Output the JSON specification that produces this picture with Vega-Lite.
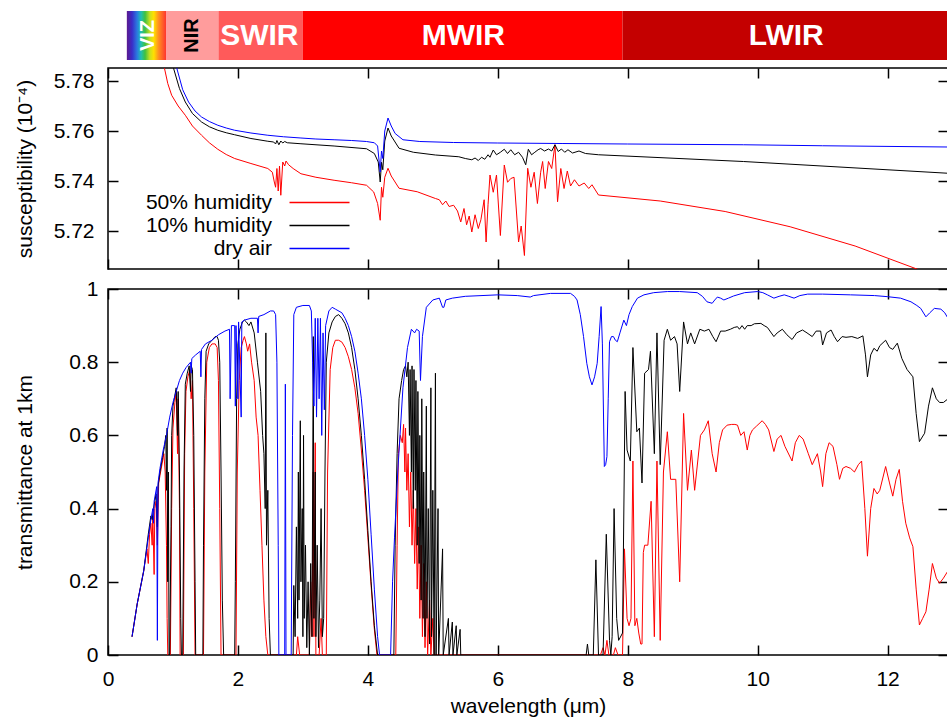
{
"$schema":"https://vega.github.io/schema/vega-lite/v6.json",
"padding":{"left":13,"top":11,"right":0,"bottom":0},
"config":{"font":"Liberation Sans","view":{"stroke":"black","strokeWidth":1.5},
"axis":{"grid":false,"domain":false,"tickColor":"black","tickWidth":1.5,"labelFont":"Liberation Sans","labelFontSize":21,"labelColor":"black","titleFont":"Liberation Sans","titleFontSize":21,"titleFontWeight":"normal","titleColor":"black"}},
"resolve":{"scale":{"color":"independent"}},
"datasets":{
"bands":[{"b":"VIZ","a":0.29,"e":0.9,"c":0.61},{"b":"NIR","a":0.9,"e":1.7,"c":1.3},{"b":"SWIR","a":1.7,"e":3.0,"c":2.33},{"b":"MWIR","a":3.0,"e":7.92,"c":5.47},{"b":"LWIR","a":7.92,"e":12.93,"c":10.44}],
"sus":[
{"s":"50% humidity","l":0.8,"v":5.8},{"s":"50% humidity","l":0.87,"v":5.785},{"s":"50% humidity","l":0.92,"v":5.779},{"s":"50% humidity","l":0.98,"v":5.7743},{"s":"50% humidity","l":1.08,"v":5.77},{"s":"50% humidity","l":1.19,"v":5.7663},{"s":"50% humidity","l":1.3,"v":5.762},{"s":"50% humidity","l":1.44,"v":5.7583},{"s":"50% humidity","l":1.56,"v":5.7553},{"s":"50% humidity","l":1.69,"v":5.7527},{"s":"50% humidity","l":1.82,"v":5.7506},{"s":"50% humidity","l":1.95,"v":5.749},{"s":"50% humidity","l":2.2,"v":5.747},{"s":"50% humidity","l":2.46,"v":5.745},{"s":"50% humidity","l":2.53,"v":5.7435},{"s":"50% humidity","l":2.56,"v":5.7396},{"s":"50% humidity","l":2.58,"v":5.7375},{"s":"50% humidity","l":2.6,"v":5.745},{"s":"50% humidity","l":2.62,"v":5.736},{"s":"50% humidity","l":2.64,"v":5.746},{"s":"50% humidity","l":2.66,"v":5.7343},{"s":"50% humidity","l":2.69,"v":5.7476},{"s":"50% humidity","l":2.72,"v":5.746},{"s":"50% humidity","l":2.74,"v":5.748},{"s":"50% humidity","l":2.78,"v":5.7465},{"s":"50% humidity","l":2.85,"v":5.745},{"s":"50% humidity","l":2.97,"v":5.7429},{"s":"50% humidity","l":3.2,"v":5.7415},{"s":"50% humidity","l":3.48,"v":5.7403},{"s":"50% humidity","l":3.75,"v":5.7393},{"s":"50% humidity","l":3.98,"v":5.7383},{"s":"50% humidity","l":4.09,"v":5.7356},{"s":"50% humidity","l":4.15,"v":5.731},{"s":"50% humidity","l":4.19,"v":5.7243},{"s":"50% humidity","l":4.21,"v":5.7375},{"s":"50% humidity","l":4.23,"v":5.7335},{"s":"50% humidity","l":4.26,"v":5.7415},{"s":"50% humidity","l":4.31,"v":5.7451},{"s":"50% humidity","l":4.36,"v":5.742},{"s":"50% humidity","l":4.48,"v":5.7371},{"s":"50% humidity","l":4.76,"v":5.7357},{"s":"50% humidity","l":5.04,"v":5.733},{"s":"50% humidity","l":5.1,"v":5.7325},{"s":"50% humidity","l":5.15,"v":5.7305},{"s":"50% humidity","l":5.2,"v":5.732},{"s":"50% humidity","l":5.25,"v":5.7298},{"s":"50% humidity","l":5.32,"v":5.7303},{"s":"50% humidity","l":5.38,"v":5.728},{"s":"50% humidity","l":5.43,"v":5.7236},{"s":"50% humidity","l":5.48,"v":5.729},{"s":"50% humidity","l":5.52,"v":5.7225},{"s":"50% humidity","l":5.56,"v":5.726},{"s":"50% humidity","l":5.6,"v":5.7196},{"s":"50% humidity","l":5.65,"v":5.7265},{"s":"50% humidity","l":5.7,"v":5.721},{"s":"50% humidity","l":5.74,"v":5.7245},{"s":"50% humidity","l":5.79,"v":5.7325},{"s":"50% humidity","l":5.82,"v":5.7156},{"s":"50% humidity","l":5.85,"v":5.7305},{"s":"50% humidity","l":5.88,"v":5.7424},{"s":"50% humidity","l":5.93,"v":5.7355},{"s":"50% humidity","l":5.98,"v":5.7424},{"s":"50% humidity","l":6.04,"v":5.7182},{"s":"50% humidity","l":6.1,"v":5.7464},{"s":"50% humidity","l":6.15,"v":5.7395},{"s":"50% humidity","l":6.2,"v":5.741},{"s":"50% humidity","l":6.25,"v":5.7415},{"s":"50% humidity","l":6.32,"v":5.7156},{"s":"50% humidity","l":6.36,"v":5.722},{"s":"50% humidity","l":6.41,"v":5.7102},{"s":"50% humidity","l":6.46,"v":5.7451},{"s":"50% humidity","l":6.51,"v":5.7375},{"s":"50% humidity","l":6.56,"v":5.7435},{"s":"50% humidity","l":6.61,"v":5.731},{"s":"50% humidity","l":6.66,"v":5.7435},{"s":"50% humidity","l":6.69,"v":5.7478},{"s":"50% humidity","l":6.73,"v":5.737},{"s":"50% humidity","l":6.78,"v":5.7478},{"s":"50% humidity","l":6.83,"v":5.745},{"s":"50% humidity","l":6.88,"v":5.7545},{"s":"50% humidity","l":6.92,"v":5.7317},{"s":"50% humidity","l":6.97,"v":5.745},{"s":"50% humidity","l":7.02,"v":5.737},{"s":"50% humidity","l":7.07,"v":5.744},{"s":"50% humidity","l":7.12,"v":5.738},{"s":"50% humidity","l":7.18,"v":5.7405},{"s":"50% humidity","l":7.25,"v":5.738},{"s":"50% humidity","l":7.33,"v":5.7392},{"s":"50% humidity","l":7.4,"v":5.737},{"s":"50% humidity","l":7.45,"v":5.7385},{"s":"50% humidity","l":7.55,"v":5.7344},{"s":"50% humidity","l":8.5,"v":5.732},{"s":"50% humidity","l":9.5,"v":5.7278},{"s":"50% humidity","l":10.5,"v":5.7217},{"s":"50% humidity","l":11.5,"v":5.714},{"s":"50% humidity","l":12.45,"v":5.7048},{"s":"50% humidity","l":12.93,"v":5.7},
{"s":"10% humidity","l":0.9,"v":5.8},{"s":"10% humidity","l":1.01,"v":5.785},{"s":"10% humidity","l":1.1,"v":5.777},{"s":"10% humidity","l":1.19,"v":5.7716},{"s":"10% humidity","l":1.3,"v":5.767},{"s":"10% humidity","l":1.44,"v":5.7636},{"s":"10% humidity","l":1.56,"v":5.7617},{"s":"10% humidity","l":1.69,"v":5.7603},{"s":"10% humidity","l":1.82,"v":5.7593},{"s":"10% humidity","l":1.95,"v":5.7585},{"s":"10% humidity","l":2.2,"v":5.757},{"s":"10% humidity","l":2.46,"v":5.7559},{"s":"10% humidity","l":2.55,"v":5.7556},{"s":"10% humidity","l":2.58,"v":5.7548},{"s":"10% humidity","l":2.6,"v":5.7562},{"s":"10% humidity","l":2.63,"v":5.7545},{"s":"10% humidity","l":2.66,"v":5.756},{"s":"10% humidity","l":2.69,"v":5.7552},{"s":"10% humidity","l":2.72,"v":5.7558},{"s":"10% humidity","l":2.76,"v":5.7553},{"s":"10% humidity","l":2.97,"v":5.7549},{"s":"10% humidity","l":3.48,"v":5.754},{"s":"10% humidity","l":3.98,"v":5.7529},{"s":"10% humidity","l":4.1,"v":5.751},{"s":"10% humidity","l":4.16,"v":5.7476},{"s":"10% humidity","l":4.19,"v":5.7396},{"s":"10% humidity","l":4.21,"v":5.7475},{"s":"10% humidity","l":4.23,"v":5.7445},{"s":"10% humidity","l":4.26,"v":5.756},{"s":"10% humidity","l":4.31,"v":5.7612},{"s":"10% humidity","l":4.36,"v":5.758},{"s":"10% humidity","l":4.48,"v":5.7531},{"s":"10% humidity","l":4.7,"v":5.7515},{"s":"10% humidity","l":5.04,"v":5.7504},{"s":"10% humidity","l":5.4,"v":5.7497},{"s":"10% humidity","l":5.5,"v":5.749},{"s":"10% humidity","l":5.6,"v":5.7485},{"s":"10% humidity","l":5.65,"v":5.7492},{"s":"10% humidity","l":5.7,"v":5.7482},{"s":"10% humidity","l":5.75,"v":5.7495},{"s":"10% humidity","l":5.8,"v":5.7487},{"s":"10% humidity","l":5.85,"v":5.7505},{"s":"10% humidity","l":5.88,"v":5.7495},{"s":"10% humidity","l":5.93,"v":5.7524},{"s":"10% humidity","l":5.98,"v":5.7505},{"s":"10% humidity","l":6.04,"v":5.7515},{"s":"10% humidity","l":6.1,"v":5.7527},{"s":"10% humidity","l":6.15,"v":5.751},{"s":"10% humidity","l":6.2,"v":5.7525},{"s":"10% humidity","l":6.26,"v":5.7505},{"s":"10% humidity","l":6.32,"v":5.7515},{"s":"10% humidity","l":6.38,"v":5.7495},{"s":"10% humidity","l":6.43,"v":5.7465},{"s":"10% humidity","l":6.47,"v":5.7527},{"s":"10% humidity","l":6.52,"v":5.7505},{"s":"10% humidity","l":6.57,"v":5.7515},{"s":"10% humidity","l":6.62,"v":5.7525},{"s":"10% humidity","l":6.66,"v":5.753},{"s":"10% humidity","l":6.72,"v":5.752},{"s":"10% humidity","l":6.78,"v":5.7528},{"s":"10% humidity","l":6.83,"v":5.752},{"s":"10% humidity","l":6.88,"v":5.7545},{"s":"10% humidity","l":6.93,"v":5.7518},{"s":"10% humidity","l":6.98,"v":5.7528},{"s":"10% humidity","l":7.03,"v":5.7515},{"s":"10% humidity","l":7.08,"v":5.7525},{"s":"10% humidity","l":7.15,"v":5.7512},{"s":"10% humidity","l":7.25,"v":5.752},{"s":"10% humidity","l":7.35,"v":5.751},{"s":"10% humidity","l":7.55,"v":5.7505},{"s":"10% humidity","l":9.78,"v":5.7478},{"s":"10% humidity","l":12.93,"v":5.7431},
{"s":"dry air","l":0.95,"v":5.795},{"s":"dry air","l":1.06,"v":5.785},{"s":"dry air","l":1.15,"v":5.7765},{"s":"dry air","l":1.24,"v":5.7716},{"s":"dry air","l":1.34,"v":5.768},{"s":"dry air","l":1.44,"v":5.7656},{"s":"dry air","l":1.56,"v":5.7638},{"s":"dry air","l":1.69,"v":5.7623},{"s":"dry air","l":1.82,"v":5.7612},{"s":"dry air","l":1.95,"v":5.7603},{"s":"dry air","l":2.2,"v":5.7592},{"s":"dry air","l":2.46,"v":5.7583},{"s":"dry air","l":2.7,"v":5.7577},{"s":"dry air","l":2.97,"v":5.7572},{"s":"dry air","l":3.2,"v":5.7568},{"s":"dry air","l":3.48,"v":5.7565},{"s":"dry air","l":3.75,"v":5.7562},{"s":"dry air","l":3.98,"v":5.7558},{"s":"dry air","l":4.1,"v":5.7553},{"s":"dry air","l":4.15,"v":5.754},{"s":"dry air","l":4.19,"v":5.7436},{"s":"dry air","l":4.21,"v":5.752},{"s":"dry air","l":4.23,"v":5.749},{"s":"dry air","l":4.26,"v":5.76},{"s":"dry air","l":4.31,"v":5.7652},{"s":"dry air","l":4.36,"v":5.762},{"s":"dry air","l":4.42,"v":5.759},{"s":"dry air","l":4.54,"v":5.7565},{"s":"dry air","l":4.8,"v":5.7558},{"s":"dry air","l":5.32,"v":5.7554},{"s":"dry air","l":6.0,"v":5.7552},{"s":"dry air","l":6.99,"v":5.755},{"s":"dry air","l":8.0,"v":5.7548},{"s":"dry air","l":9.78,"v":5.7545},{"s":"dry air","l":11.0,"v":5.7541},{"s":"dry air","l":12.93,"v":5.7536}
],
"trans":[
{"s":"50% humidity","l":0.37,"v":0.05},{"s":"50% humidity","l":0.45,"v":0.14},{"s":"50% humidity","l":0.55,"v":0.23},{"s":"50% humidity","l":0.6,"v":0.29},{"s":"50% humidity","l":0.62,"v":0.25},{"s":"50% humidity","l":0.64,"v":0.33},{"s":"50% humidity","l":0.66,"v":0.36},{"s":"50% humidity","l":0.68,"v":0.3},{"s":"50% humidity","l":0.69,"v":0.38},{"s":"50% humidity","l":0.71,"v":0.22},{"s":"50% humidity","l":0.72,"v":0.4},{"s":"50% humidity","l":0.74,"v":0.42},{"s":"50% humidity","l":0.76,"v":0.3},{"s":"50% humidity","l":0.78,"v":0.47},{"s":"50% humidity","l":0.81,"v":0.5},{"s":"50% humidity","l":0.84,"v":0.53},{"s":"50% humidity","l":0.86,"v":0.55},{"s":"50% humidity","l":0.88,"v":0.5},{"s":"50% humidity","l":0.9,"v":0.3},{"s":"50% humidity","l":0.91,"v":0.1},{"s":"50% humidity","l":0.92,"v":0.0},{"s":"50% humidity","l":0.96,"v":0.0},{"s":"50% humidity","l":0.98,"v":0.4},{"s":"50% humidity","l":1.0,"v":0.62},{"s":"50% humidity","l":1.03,"v":0.69},{"s":"50% humidity","l":1.05,"v":0.72},{"s":"50% humidity","l":1.07,"v":0.55},{"s":"50% humidity","l":1.08,"v":0.7},{"s":"50% humidity","l":1.1,"v":0.4},{"s":"50% humidity","l":1.11,"v":0.0},{"s":"50% humidity","l":1.16,"v":0.0},{"s":"50% humidity","l":1.18,"v":0.55},{"s":"50% humidity","l":1.2,"v":0.72},{"s":"50% humidity","l":1.23,"v":0.76},{"s":"50% humidity","l":1.26,"v":0.78},{"s":"50% humidity","l":1.28,"v":0.7},{"s":"50% humidity","l":1.3,"v":0.75},{"s":"50% humidity","l":1.32,"v":0.4},{"s":"50% humidity","l":1.34,"v":0.0},{"s":"50% humidity","l":1.47,"v":0.0},{"s":"50% humidity","l":1.49,"v":0.5},{"s":"50% humidity","l":1.52,"v":0.8},{"s":"50% humidity","l":1.56,"v":0.84},{"s":"50% humidity","l":1.6,"v":0.85},{"s":"50% humidity","l":1.65,"v":0.85},{"s":"50% humidity","l":1.68,"v":0.84},{"s":"50% humidity","l":1.7,"v":0.75},{"s":"50% humidity","l":1.72,"v":0.4},{"s":"50% humidity","l":1.74,"v":0.0},{"s":"50% humidity","l":1.97,"v":0.0},{"s":"50% humidity","l":1.99,"v":0.5},{"s":"50% humidity","l":2.02,"v":0.75},{"s":"50% humidity","l":2.05,"v":0.84},{"s":"50% humidity","l":2.08,"v":0.86},{"s":"50% humidity","l":2.1,"v":0.87},{"s":"50% humidity","l":2.13,"v":0.85},{"s":"50% humidity","l":2.15,"v":0.83},{"s":"50% humidity","l":2.18,"v":0.85},{"s":"50% humidity","l":2.21,"v":0.8},{"s":"50% humidity","l":2.25,"v":0.75},{"s":"50% humidity","l":2.28,"v":0.65},{"s":"50% humidity","l":2.31,"v":0.6},{"s":"50% humidity","l":2.34,"v":0.45},{"s":"50% humidity","l":2.37,"v":0.3},{"s":"50% humidity","l":2.4,"v":0.15},{"s":"50% humidity","l":2.43,"v":0.05},{"s":"50% humidity","l":2.46,"v":0.0},{"s":"50% humidity","l":2.9,"v":0.0},{"s":"50% humidity","l":2.92,"v":0.05},{"s":"50% humidity","l":2.95,"v":0.0},{"s":"50% humidity","l":3.1,"v":0.0},{"s":"50% humidity","l":3.12,"v":0.2},{"s":"50% humidity","l":3.14,"v":0.05},{"s":"50% humidity","l":3.16,"v":0.5},{"s":"50% humidity","l":3.17,"v":0.05},{"s":"50% humidity","l":3.19,"v":0.58},{"s":"50% humidity","l":3.2,"v":0.0},{"s":"50% humidity","l":3.25,"v":0.0},{"s":"50% humidity","l":3.28,"v":0.1},{"s":"50% humidity","l":3.3,"v":0.0},{"s":"50% humidity","l":3.36,"v":0.0},{"s":"50% humidity","l":3.38,"v":0.5},{"s":"50% humidity","l":3.42,"v":0.78},{"s":"50% humidity","l":3.46,"v":0.84},{"s":"50% humidity","l":3.5,"v":0.86},{"s":"50% humidity","l":3.55,"v":0.86},{"s":"50% humidity","l":3.6,"v":0.855},{"s":"50% humidity","l":3.65,"v":0.84},{"s":"50% humidity","l":3.7,"v":0.815},{"s":"50% humidity","l":3.75,"v":0.78},{"s":"50% humidity","l":3.8,"v":0.73},{"s":"50% humidity","l":3.85,"v":0.66},{"s":"50% humidity","l":3.9,"v":0.56},{"s":"50% humidity","l":3.95,"v":0.45},{"s":"50% humidity","l":4.0,"v":0.32},{"s":"50% humidity","l":4.05,"v":0.19},{"s":"50% humidity","l":4.1,"v":0.07},{"s":"50% humidity","l":4.14,"v":0.0},{"s":"50% humidity","l":4.43,"v":0.0},{"s":"50% humidity","l":4.45,"v":0.3},{"s":"50% humidity","l":4.47,"v":0.55},{"s":"50% humidity","l":4.5,"v":0.6},{"s":"50% humidity","l":4.53,"v":0.58},{"s":"50% humidity","l":4.55,"v":0.63},{"s":"50% humidity","l":4.57,"v":0.5},{"s":"50% humidity","l":4.58,"v":0.62},{"s":"50% humidity","l":4.6,"v":0.45},{"s":"50% humidity","l":4.62,"v":0.55},{"s":"50% humidity","l":4.64,"v":0.35},{"s":"50% humidity","l":4.66,"v":0.5},{"s":"50% humidity","l":4.68,"v":0.3},{"s":"50% humidity","l":4.7,"v":0.45},{"s":"50% humidity","l":4.72,"v":0.25},{"s":"50% humidity","l":4.74,"v":0.4},{"s":"50% humidity","l":4.76,"v":0.18},{"s":"50% humidity","l":4.78,"v":0.35},{"s":"50% humidity","l":4.8,"v":0.1},{"s":"50% humidity","l":4.82,"v":0.3},{"s":"50% humidity","l":4.84,"v":0.05},{"s":"50% humidity","l":4.86,"v":0.25},{"s":"50% humidity","l":4.88,"v":0.02},{"s":"50% humidity","l":4.9,"v":0.2},{"s":"50% humidity","l":4.92,"v":0.0},{"s":"50% humidity","l":4.95,"v":0.15},{"s":"50% humidity","l":4.97,"v":0.0},{"s":"50% humidity","l":5.0,"v":0.1},{"s":"50% humidity","l":5.02,"v":0.0},{"s":"50% humidity","l":7.58,"v":0.0},{"s":"50% humidity","l":7.62,"v":0.02},{"s":"50% humidity","l":7.65,"v":0.0},{"s":"50% humidity","l":7.68,"v":0.04},{"s":"50% humidity","l":7.71,"v":0.0},{"s":"50% humidity","l":7.78,"v":0.0},{"s":"50% humidity","l":7.81,"v":0.02},{"s":"50% humidity","l":7.85,"v":0.0},{"s":"50% humidity","l":7.92,"v":0.0},{"s":"50% humidity","l":7.95,"v":0.29},{"s":"50% humidity","l":7.99,"v":0.1},{"s":"50% humidity","l":8.02,"v":0.08},{"s":"50% humidity","l":8.05,"v":0.1},{"s":"50% humidity","l":8.08,"v":0.53},{"s":"50% humidity","l":8.11,"v":0.08},{"s":"50% humidity","l":8.14,"v":0.1},{"s":"50% humidity","l":8.17,"v":0.06},{"s":"50% humidity","l":8.2,"v":0.03},{"s":"50% humidity","l":8.22,"v":0.03},{"s":"50% humidity","l":8.24,"v":0.28},{"s":"50% humidity","l":8.26,"v":0.3},{"s":"50% humidity","l":8.31,"v":0.3},{"s":"50% humidity","l":8.36,"v":0.42},{"s":"50% humidity","l":8.41,"v":0.05},{"s":"50% humidity","l":8.45,"v":0.53},{"s":"50% humidity","l":8.5,"v":0.04},{"s":"50% humidity","l":8.55,"v":0.5},{"s":"50% humidity","l":8.61,"v":0.61},{"s":"50% humidity","l":8.66,"v":0.48},{"s":"50% humidity","l":8.74,"v":0.48},{"s":"50% humidity","l":8.8,"v":0.2},{"s":"50% humidity","l":8.86,"v":0.66},{"s":"50% humidity","l":8.92,"v":0.45},{"s":"50% humidity","l":8.98,"v":0.56},{"s":"50% humidity","l":9.03,"v":0.45},{"s":"50% humidity","l":9.12,"v":0.6},{"s":"50% humidity","l":9.18,"v":0.615},{"s":"50% humidity","l":9.24,"v":0.64},{"s":"50% humidity","l":9.3,"v":0.55},{"s":"50% humidity","l":9.36,"v":0.5},{"s":"50% humidity","l":9.41,"v":0.58},{"s":"50% humidity","l":9.46,"v":0.615},{"s":"50% humidity","l":9.53,"v":0.628},{"s":"50% humidity","l":9.6,"v":0.63},{"s":"50% humidity","l":9.65,"v":0.63},{"s":"50% humidity","l":9.69,"v":0.628},{"s":"50% humidity","l":9.74,"v":0.6},{"s":"50% humidity","l":9.79,"v":0.61},{"s":"50% humidity","l":9.84,"v":0.56},{"s":"50% humidity","l":9.88,"v":0.6},{"s":"50% humidity","l":9.92,"v":0.615},{"s":"50% humidity","l":9.98,"v":0.625},{"s":"50% humidity","l":10.07,"v":0.64},{"s":"50% humidity","l":10.12,"v":0.63},{"s":"50% humidity","l":10.17,"v":0.615},{"s":"50% humidity","l":10.25,"v":0.556},{"s":"50% humidity","l":10.3,"v":0.59},{"s":"50% humidity","l":10.36,"v":0.6},{"s":"50% humidity","l":10.42,"v":0.57},{"s":"50% humidity","l":10.53,"v":0.53},{"s":"50% humidity","l":10.58,"v":0.58},{"s":"50% humidity","l":10.64,"v":0.6},{"s":"50% humidity","l":10.7,"v":0.59},{"s":"50% humidity","l":10.78,"v":0.55},{"s":"50% humidity","l":10.84,"v":0.52},{"s":"50% humidity","l":10.92,"v":0.55},{"s":"50% humidity","l":10.97,"v":0.5},{"s":"50% humidity","l":11.0,"v":0.46},{"s":"50% humidity","l":11.05,"v":0.55},{"s":"50% humidity","l":11.1,"v":0.58},{"s":"50% humidity","l":11.16,"v":0.57},{"s":"50% humidity","l":11.22,"v":0.52},{"s":"50% humidity","l":11.26,"v":0.48},{"s":"50% humidity","l":11.31,"v":0.51},{"s":"50% humidity","l":11.36,"v":0.515},{"s":"50% humidity","l":11.43,"v":0.51},{"s":"50% humidity","l":11.49,"v":0.5},{"s":"50% humidity","l":11.55,"v":0.52},{"s":"50% humidity","l":11.6,"v":0.53},{"s":"50% humidity","l":11.65,"v":0.4},{"s":"50% humidity","l":11.69,"v":0.27},{"s":"50% humidity","l":11.74,"v":0.4},{"s":"50% humidity","l":11.79,"v":0.455},{"s":"50% humidity","l":11.84,"v":0.44},{"s":"50% humidity","l":11.88,"v":0.45},{"s":"50% humidity","l":11.97,"v":0.515},{"s":"50% humidity","l":12.03,"v":0.47},{"s":"50% humidity","l":12.08,"v":0.434},{"s":"50% humidity","l":12.13,"v":0.48},{"s":"50% humidity","l":12.18,"v":0.507},{"s":"50% humidity","l":12.23,"v":0.42},{"s":"50% humidity","l":12.28,"v":0.36},{"s":"50% humidity","l":12.34,"v":0.32},{"s":"50% humidity","l":12.39,"v":0.296},{"s":"50% humidity","l":12.44,"v":0.18},{"s":"50% humidity","l":12.49,"v":0.082},{"s":"50% humidity","l":12.54,"v":0.1},{"s":"50% humidity","l":12.59,"v":0.118},{"s":"50% humidity","l":12.64,"v":0.18},{"s":"50% humidity","l":12.69,"v":0.25},{"s":"50% humidity","l":12.75,"v":0.21},{"s":"50% humidity","l":12.8,"v":0.196},{"s":"50% humidity","l":12.86,"v":0.21},{"s":"50% humidity","l":12.93,"v":0.23},
{"s":"10% humidity","l":0.37,"v":0.05},{"s":"10% humidity","l":0.45,"v":0.14},{"s":"10% humidity","l":0.55,"v":0.23},{"s":"10% humidity","l":0.62,"v":0.33},{"s":"10% humidity","l":0.66,"v":0.38},{"s":"10% humidity","l":0.68,"v":0.37},{"s":"10% humidity","l":0.7,"v":0.4},{"s":"10% humidity","l":0.72,"v":0.42},{"s":"10% humidity","l":0.74,"v":0.44},{"s":"10% humidity","l":0.76,"v":0.35},{"s":"10% humidity","l":0.77,"v":0.46},{"s":"10% humidity","l":0.8,"v":0.5},{"s":"10% humidity","l":0.84,"v":0.54},{"s":"10% humidity","l":0.87,"v":0.57},{"s":"10% humidity","l":0.89,"v":0.6},{"s":"10% humidity","l":0.9,"v":0.45},{"s":"10% humidity","l":0.91,"v":0.62},{"s":"10% humidity","l":0.92,"v":0.2},{"s":"10% humidity","l":0.93,"v":0.5},{"s":"10% humidity","l":0.94,"v":0.0},{"s":"10% humidity","l":0.95,"v":0.0},{"s":"10% humidity","l":0.97,"v":0.35},{"s":"10% humidity","l":0.98,"v":0.6},{"s":"10% humidity","l":1.0,"v":0.68},{"s":"10% humidity","l":1.03,"v":0.71},{"s":"10% humidity","l":1.05,"v":0.73},{"s":"10% humidity","l":1.07,"v":0.6},{"s":"10% humidity","l":1.08,"v":0.72},{"s":"10% humidity","l":1.1,"v":0.5},{"s":"10% humidity","l":1.12,"v":0.1},{"s":"10% humidity","l":1.13,"v":0.0},{"s":"10% humidity","l":1.15,"v":0.0},{"s":"10% humidity","l":1.17,"v":0.5},{"s":"10% humidity","l":1.19,"v":0.74},{"s":"10% humidity","l":1.22,"v":0.77},{"s":"10% humidity","l":1.25,"v":0.79},{"s":"10% humidity","l":1.27,"v":0.72},{"s":"10% humidity","l":1.28,"v":0.79},{"s":"10% humidity","l":1.3,"v":0.78},{"s":"10% humidity","l":1.32,"v":0.6},{"s":"10% humidity","l":1.34,"v":0.2},{"s":"10% humidity","l":1.35,"v":0.0},{"s":"10% humidity","l":1.46,"v":0.0},{"s":"10% humidity","l":1.47,"v":0.3},{"s":"10% humidity","l":1.49,"v":0.7},{"s":"10% humidity","l":1.51,"v":0.83},{"s":"10% humidity","l":1.55,"v":0.85},{"s":"10% humidity","l":1.6,"v":0.86},{"s":"10% humidity","l":1.65,"v":0.87},{"s":"10% humidity","l":1.68,"v":0.87},{"s":"10% humidity","l":1.7,"v":0.86},{"s":"10% humidity","l":1.72,"v":0.8},{"s":"10% humidity","l":1.74,"v":0.5},{"s":"10% humidity","l":1.76,"v":0.15},{"s":"10% humidity","l":1.78,"v":0.0},{"s":"10% humidity","l":1.95,"v":0.0},{"s":"10% humidity","l":1.96,"v":0.2},{"s":"10% humidity","l":1.98,"v":0.7},{"s":"10% humidity","l":2.0,"v":0.85},{"s":"10% humidity","l":2.03,"v":0.89},{"s":"10% humidity","l":2.07,"v":0.91},{"s":"10% humidity","l":2.1,"v":0.915},{"s":"10% humidity","l":2.13,"v":0.91},{"s":"10% humidity","l":2.17,"v":0.9},{"s":"10% humidity","l":2.2,"v":0.91},{"s":"10% humidity","l":2.25,"v":0.88},{"s":"10% humidity","l":2.3,"v":0.8},{"s":"10% humidity","l":2.35,"v":0.72},{"s":"10% humidity","l":2.38,"v":0.6},{"s":"10% humidity","l":2.4,"v":0.55},{"s":"10% humidity","l":2.42,"v":0.4},{"s":"10% humidity","l":2.43,"v":0.88},{"s":"10% humidity","l":2.44,"v":0.3},{"s":"10% humidity","l":2.46,"v":0.45},{"s":"10% humidity","l":2.48,"v":0.1},{"s":"10% humidity","l":2.5,"v":0.0},{"s":"10% humidity","l":2.85,"v":0.0},{"s":"10% humidity","l":2.86,"v":0.19},{"s":"10% humidity","l":2.88,"v":0.05},{"s":"10% humidity","l":2.9,"v":0.35},{"s":"10% humidity","l":2.92,"v":0.1},{"s":"10% humidity","l":2.93,"v":0.5},{"s":"10% humidity","l":2.94,"v":0.15},{"s":"10% humidity","l":2.96,"v":0.64},{"s":"10% humidity","l":2.97,"v":0.2},{"s":"10% humidity","l":2.99,"v":0.4},{"s":"10% humidity","l":3.0,"v":0.05},{"s":"10% humidity","l":3.01,"v":0.6},{"s":"10% humidity","l":3.02,"v":0.1},{"s":"10% humidity","l":3.04,"v":0.3},{"s":"10% humidity","l":3.06,"v":0.02},{"s":"10% humidity","l":3.08,"v":0.2},{"s":"10% humidity","l":3.1,"v":0.0},{"s":"10% humidity","l":3.12,"v":0.25},{"s":"10% humidity","l":3.14,"v":0.05},{"s":"10% humidity","l":3.16,"v":0.87},{"s":"10% humidity","l":3.17,"v":0.1},{"s":"10% humidity","l":3.19,"v":0.5},{"s":"10% humidity","l":3.2,"v":0.05},{"s":"10% humidity","l":3.22,"v":0.3},{"s":"10% humidity","l":3.24,"v":0.02},{"s":"10% humidity","l":3.26,"v":0.15},{"s":"10% humidity","l":3.28,"v":0.4},{"s":"10% humidity","l":3.3,"v":0.05},{"s":"10% humidity","l":3.32,"v":0.1},{"s":"10% humidity","l":3.34,"v":0.5},{"s":"10% humidity","l":3.36,"v":0.8},{"s":"10% humidity","l":3.4,"v":0.88},{"s":"10% humidity","l":3.45,"v":0.91},{"s":"10% humidity","l":3.5,"v":0.925},{"s":"10% humidity","l":3.55,"v":0.93},{"s":"10% humidity","l":3.6,"v":0.92},{"s":"10% humidity","l":3.65,"v":0.905},{"s":"10% humidity","l":3.7,"v":0.88},{"s":"10% humidity","l":3.75,"v":0.84},{"s":"10% humidity","l":3.8,"v":0.78},{"s":"10% humidity","l":3.85,"v":0.7},{"s":"10% humidity","l":3.9,"v":0.6},{"s":"10% humidity","l":3.95,"v":0.48},{"s":"10% humidity","l":4.0,"v":0.34},{"s":"10% humidity","l":4.05,"v":0.2},{"s":"10% humidity","l":4.1,"v":0.08},{"s":"10% humidity","l":4.15,"v":0.0},{"s":"10% humidity","l":4.4,"v":0.0},{"s":"10% humidity","l":4.42,"v":0.3},{"s":"10% humidity","l":4.45,"v":0.55},{"s":"10% humidity","l":4.48,"v":0.7},{"s":"10% humidity","l":4.52,"v":0.75},{"s":"10% humidity","l":4.55,"v":0.78},{"s":"10% humidity","l":4.58,"v":0.79},{"s":"10% humidity","l":4.6,"v":0.76},{"s":"10% humidity","l":4.62,"v":0.8},{"s":"10% humidity","l":4.64,"v":0.6},{"s":"10% humidity","l":4.65,"v":0.78},{"s":"10% humidity","l":4.67,"v":0.5},{"s":"10% humidity","l":4.68,"v":0.79},{"s":"10% humidity","l":4.7,"v":0.4},{"s":"10% humidity","l":4.71,"v":0.78},{"s":"10% humidity","l":4.73,"v":0.45},{"s":"10% humidity","l":4.74,"v":0.75},{"s":"10% humidity","l":4.76,"v":0.3},{"s":"10% humidity","l":4.77,"v":0.72},{"s":"10% humidity","l":4.79,"v":0.25},{"s":"10% humidity","l":4.8,"v":0.6},{"s":"10% humidity","l":4.82,"v":0.15},{"s":"10% humidity","l":4.83,"v":0.7},{"s":"10% humidity","l":4.85,"v":0.1},{"s":"10% humidity","l":4.86,"v":0.5},{"s":"10% humidity","l":4.88,"v":0.05},{"s":"10% humidity","l":4.9,"v":0.68},{"s":"10% humidity","l":4.91,"v":0.1},{"s":"10% humidity","l":4.93,"v":0.4},{"s":"10% humidity","l":4.95,"v":0.03},{"s":"10% humidity","l":4.97,"v":0.73},{"s":"10% humidity","l":4.98,"v":0.05},{"s":"10% humidity","l":5.0,"v":0.45},{"s":"10% humidity","l":5.02,"v":0.0},{"s":"10% humidity","l":5.04,"v":0.77},{"s":"10% humidity","l":5.05,"v":0.0},{"s":"10% humidity","l":5.08,"v":0.4},{"s":"10% humidity","l":5.09,"v":0.0},{"s":"10% humidity","l":5.15,"v":0.29},{"s":"10% humidity","l":5.16,"v":0.0},{"s":"10% humidity","l":5.24,"v":0.1},{"s":"10% humidity","l":5.25,"v":0.0},{"s":"10% humidity","l":5.3,"v":0.09},{"s":"10% humidity","l":5.31,"v":0.0},{"s":"10% humidity","l":5.36,"v":0.08},{"s":"10% humidity","l":5.37,"v":0.0},{"s":"10% humidity","l":5.42,"v":0.07},{"s":"10% humidity","l":5.43,"v":0.0},{"s":"10% humidity","l":7.36,"v":0.0},{"s":"10% humidity","l":7.38,"v":0.03},{"s":"10% humidity","l":7.4,"v":0.0},{"s":"10% humidity","l":7.47,"v":0.0},{"s":"10% humidity","l":7.51,"v":0.26},{"s":"10% humidity","l":7.55,"v":0.0},{"s":"10% humidity","l":7.62,"v":0.0},{"s":"10% humidity","l":7.67,"v":0.33},{"s":"10% humidity","l":7.72,"v":0.04},{"s":"10% humidity","l":7.74,"v":0.0},{"s":"10% humidity","l":7.76,"v":0.05},{"s":"10% humidity","l":7.79,"v":0.4},{"s":"10% humidity","l":7.83,"v":0.1},{"s":"10% humidity","l":7.86,"v":0.04},{"s":"10% humidity","l":7.92,"v":0.06},{"s":"10% humidity","l":7.96,"v":0.72},{"s":"10% humidity","l":7.99,"v":0.56},{"s":"10% humidity","l":8.04,"v":0.53},{"s":"10% humidity","l":8.08,"v":0.84},{"s":"10% humidity","l":8.14,"v":0.61},{"s":"10% humidity","l":8.18,"v":0.62},{"s":"10% humidity","l":8.22,"v":0.47},{"s":"10% humidity","l":8.26,"v":0.77},{"s":"10% humidity","l":8.32,"v":0.78},{"s":"10% humidity","l":8.35,"v":0.83},{"s":"10% humidity","l":8.41,"v":0.55},{"s":"10% humidity","l":8.45,"v":0.88},{"s":"10% humidity","l":8.5,"v":0.52},{"s":"10% humidity","l":8.56,"v":0.86},{"s":"10% humidity","l":8.61,"v":0.89},{"s":"10% humidity","l":8.66,"v":0.86},{"s":"10% humidity","l":8.72,"v":0.87},{"s":"10% humidity","l":8.76,"v":0.85},{"s":"10% humidity","l":8.8,"v":0.72},{"s":"10% humidity","l":8.86,"v":0.91},{"s":"10% humidity","l":8.92,"v":0.85},{"s":"10% humidity","l":8.97,"v":0.88},{"s":"10% humidity","l":9.03,"v":0.85},{"s":"10% humidity","l":9.11,"v":0.89},{"s":"10% humidity","l":9.18,"v":0.885},{"s":"10% humidity","l":9.25,"v":0.89},{"s":"10% humidity","l":9.31,"v":0.87},{"s":"10% humidity","l":9.36,"v":0.856},{"s":"10% humidity","l":9.43,"v":0.885},{"s":"10% humidity","l":9.5,"v":0.885},{"s":"10% humidity","l":9.58,"v":0.89},{"s":"10% humidity","l":9.64,"v":0.895},{"s":"10% humidity","l":9.69,"v":0.897},{"s":"10% humidity","l":9.72,"v":0.89},{"s":"10% humidity","l":9.76,"v":0.9},{"s":"10% humidity","l":9.8,"v":0.89},{"s":"10% humidity","l":9.84,"v":0.9},{"s":"10% humidity","l":9.9,"v":0.9},{"s":"10% humidity","l":9.95,"v":0.905},{"s":"10% humidity","l":10.05,"v":0.906},{"s":"10% humidity","l":10.1,"v":0.9},{"s":"10% humidity","l":10.15,"v":0.895},{"s":"10% humidity","l":10.25,"v":0.87},{"s":"10% humidity","l":10.3,"v":0.88},{"s":"10% humidity","l":10.38,"v":0.89},{"s":"10% humidity","l":10.45,"v":0.875},{"s":"10% humidity","l":10.53,"v":0.862},{"s":"10% humidity","l":10.6,"v":0.88},{"s":"10% humidity","l":10.69,"v":0.888},{"s":"10% humidity","l":10.76,"v":0.88},{"s":"10% humidity","l":10.84,"v":0.87},{"s":"10% humidity","l":10.9,"v":0.885},{"s":"10% humidity","l":10.97,"v":0.885},{"s":"10% humidity","l":11.0,"v":0.847},{"s":"10% humidity","l":11.06,"v":0.88},{"s":"10% humidity","l":11.13,"v":0.888},{"s":"10% humidity","l":11.18,"v":0.87},{"s":"10% humidity","l":11.23,"v":0.856},{"s":"10% humidity","l":11.3,"v":0.87},{"s":"10% humidity","l":11.36,"v":0.868},{"s":"10% humidity","l":11.45,"v":0.87},{"s":"10% humidity","l":11.54,"v":0.865},{"s":"10% humidity","l":11.62,"v":0.872},{"s":"10% humidity","l":11.66,"v":0.82},{"s":"10% humidity","l":11.69,"v":0.76},{"s":"10% humidity","l":11.74,"v":0.82},{"s":"10% humidity","l":11.79,"v":0.838},{"s":"10% humidity","l":11.84,"v":0.83},{"s":"10% humidity","l":11.88,"v":0.845},{"s":"10% humidity","l":11.97,"v":0.86},{"s":"10% humidity","l":12.03,"v":0.84},{"s":"10% humidity","l":12.08,"v":0.835},{"s":"10% humidity","l":12.15,"v":0.852},{"s":"10% humidity","l":12.22,"v":0.81},{"s":"10% humidity","l":12.3,"v":0.78},{"s":"10% humidity","l":12.39,"v":0.76},{"s":"10% humidity","l":12.44,"v":0.66},{"s":"10% humidity","l":12.49,"v":0.583},{"s":"10% humidity","l":12.57,"v":0.606},{"s":"10% humidity","l":12.63,"v":0.68},{"s":"10% humidity","l":12.69,"v":0.73},{"s":"10% humidity","l":12.75,"v":0.7},{"s":"10% humidity","l":12.8,"v":0.69},{"s":"10% humidity","l":12.86,"v":0.69},{"s":"10% humidity","l":12.93,"v":0.7},
{"s":"dry air","l":0.37,"v":0.05},{"s":"dry air","l":0.45,"v":0.14},{"s":"dry air","l":0.55,"v":0.23},{"s":"dry air","l":0.62,"v":0.32},{"s":"dry air","l":0.66,"v":0.37},{"s":"dry air","l":0.69,"v":0.4},{"s":"dry air","l":0.7,"v":0.36},{"s":"dry air","l":0.71,"v":0.42},{"s":"dry air","l":0.75,"v":0.46},{"s":"dry air","l":0.76,"v":0.04},{"s":"dry air","l":0.77,"v":0.47},{"s":"dry air","l":0.8,"v":0.51},{"s":"dry air","l":0.85,"v":0.56},{"s":"dry air","l":0.9,"v":0.6},{"s":"dry air","l":0.95,"v":0.65},{"s":"dry air","l":1.0,"v":0.69},{"s":"dry air","l":1.05,"v":0.72},{"s":"dry air","l":1.1,"v":0.75},{"s":"dry air","l":1.15,"v":0.77},{"s":"dry air","l":1.2,"v":0.785},{"s":"dry air","l":1.27,"v":0.8},{"s":"dry air","l":1.28,"v":0.77},{"s":"dry air","l":1.29,"v":0.81},{"s":"dry air","l":1.35,"v":0.82},{"s":"dry air","l":1.42,"v":0.83},{"s":"dry air","l":1.43,"v":0.76},{"s":"dry air","l":1.44,"v":0.835},{"s":"dry air","l":1.5,"v":0.85},{"s":"dry air","l":1.6,"v":0.86},{"s":"dry air","l":1.7,"v":0.875},{"s":"dry air","l":1.8,"v":0.885},{"s":"dry air","l":1.87,"v":0.89},{"s":"dry air","l":1.88,"v":0.7},{"s":"dry air","l":1.9,"v":0.9},{"s":"dry air","l":1.95,"v":0.9},{"s":"dry air","l":1.96,"v":0.68},{"s":"dry air","l":1.97,"v":0.9},{"s":"dry air","l":2.0,"v":0.7},{"s":"dry air","l":2.01,"v":0.91},{"s":"dry air","l":2.05,"v":0.65},{"s":"dry air","l":2.06,"v":0.91},{"s":"dry air","l":2.1,"v":0.915},{"s":"dry air","l":2.2,"v":0.92},{"s":"dry air","l":2.3,"v":0.92},{"s":"dry air","l":2.31,"v":0.88},{"s":"dry air","l":2.32,"v":0.925},{"s":"dry air","l":2.4,"v":0.93},{"s":"dry air","l":2.5,"v":0.94},{"s":"dry air","l":2.55,"v":0.94},{"s":"dry air","l":2.58,"v":0.93},{"s":"dry air","l":2.6,"v":0.8},{"s":"dry air","l":2.62,"v":0.3},{"s":"dry air","l":2.63,"v":0.0},{"s":"dry air","l":2.72,"v":0.0},{"s":"dry air","l":2.73,"v":0.74},{"s":"dry air","l":2.74,"v":0.0},{"s":"dry air","l":2.82,"v":0.0},{"s":"dry air","l":2.84,"v":0.6},{"s":"dry air","l":2.86,"v":0.93},{"s":"dry air","l":2.9,"v":0.95},{"s":"dry air","l":3.0,"v":0.955},{"s":"dry air","l":3.1,"v":0.955},{"s":"dry air","l":3.13,"v":0.94},{"s":"dry air","l":3.15,"v":0.8},{"s":"dry air","l":3.17,"v":0.68},{"s":"dry air","l":3.19,"v":0.92},{"s":"dry air","l":3.21,"v":0.65},{"s":"dry air","l":3.23,"v":0.92},{"s":"dry air","l":3.25,"v":0.7},{"s":"dry air","l":3.27,"v":0.92},{"s":"dry air","l":3.29,"v":0.6},{"s":"dry air","l":3.31,"v":0.88},{"s":"dry air","l":3.33,"v":0.67},{"s":"dry air","l":3.35,"v":0.9},{"s":"dry air","l":3.4,"v":0.94},{"s":"dry air","l":3.45,"v":0.95},{"s":"dry air","l":3.5,"v":0.945},{"s":"dry air","l":3.6,"v":0.935},{"s":"dry air","l":3.65,"v":0.92},{"s":"dry air","l":3.7,"v":0.9},{"s":"dry air","l":3.75,"v":0.87},{"s":"dry air","l":3.8,"v":0.83},{"s":"dry air","l":3.85,"v":0.77},{"s":"dry air","l":3.9,"v":0.7},{"s":"dry air","l":3.95,"v":0.6},{"s":"dry air","l":4.0,"v":0.48},{"s":"dry air","l":4.05,"v":0.33},{"s":"dry air","l":4.1,"v":0.18},{"s":"dry air","l":4.15,"v":0.05},{"s":"dry air","l":4.18,"v":0.0},{"s":"dry air","l":4.35,"v":0.0},{"s":"dry air","l":4.38,"v":0.2},{"s":"dry air","l":4.41,"v":0.32},{"s":"dry air","l":4.46,"v":0.5},{"s":"dry air","l":4.54,"v":0.73},{"s":"dry air","l":4.61,"v":0.84},{"s":"dry air","l":4.67,"v":0.89},{"s":"dry air","l":4.72,"v":0.88},{"s":"dry air","l":4.75,"v":0.89},{"s":"dry air","l":4.79,"v":0.885},{"s":"dry air","l":4.81,"v":0.75},{"s":"dry air","l":4.84,"v":0.87},{"s":"dry air","l":4.9,"v":0.95},{"s":"dry air","l":5.0,"v":0.97},{"s":"dry air","l":5.1,"v":0.975},{"s":"dry air","l":5.15,"v":0.95},{"s":"dry air","l":5.17,"v":0.95},{"s":"dry air","l":5.2,"v":0.97},{"s":"dry air","l":5.3,"v":0.975},{"s":"dry air","l":5.5,"v":0.98},{"s":"dry air","l":6.0,"v":0.984},{"s":"dry air","l":6.3,"v":0.982},{"s":"dry air","l":6.5,"v":0.978},{"s":"dry air","l":6.55,"v":0.982},{"s":"dry air","l":6.81,"v":0.988},{"s":"dry air","l":7.12,"v":0.988},{"s":"dry air","l":7.18,"v":0.98},{"s":"dry air","l":7.22,"v":0.97},{"s":"dry air","l":7.27,"v":0.93},{"s":"dry air","l":7.32,"v":0.87},{"s":"dry air","l":7.37,"v":0.797},{"s":"dry air","l":7.41,"v":0.76},{"s":"dry air","l":7.45,"v":0.738},{"s":"dry air","l":7.49,"v":0.76},{"s":"dry air","l":7.53,"v":0.797},{"s":"dry air","l":7.56,"v":0.87},{"s":"dry air","l":7.59,"v":0.952},{"s":"dry air","l":7.61,"v":0.85},{"s":"dry air","l":7.64,"v":0.515},{"s":"dry air","l":7.66,"v":0.52},{"s":"dry air","l":7.68,"v":0.542},{"s":"dry air","l":7.7,"v":0.7},{"s":"dry air","l":7.72,"v":0.856},{"s":"dry air","l":7.75,"v":0.87},{"s":"dry air","l":7.78,"v":0.87},{"s":"dry air","l":7.81,"v":0.86},{"s":"dry air","l":7.84,"v":0.856},{"s":"dry air","l":7.88,"v":0.88},{"s":"dry air","l":7.94,"v":0.915},{"s":"dry air","l":7.98,"v":0.9},{"s":"dry air","l":8.02,"v":0.93},{"s":"dry air","l":8.07,"v":0.952},{"s":"dry air","l":8.15,"v":0.975},{"s":"dry air","l":8.25,"v":0.984},{"s":"dry air","l":8.4,"v":0.99},{"s":"dry air","l":8.61,"v":0.993},{"s":"dry air","l":8.8,"v":0.993},{"s":"dry air","l":9.07,"v":0.99},{"s":"dry air","l":9.15,"v":0.98},{"s":"dry air","l":9.22,"v":0.965},{"s":"dry air","l":9.3,"v":0.961},{"s":"dry air","l":9.34,"v":0.97},{"s":"dry air","l":9.38,"v":0.978},{"s":"dry air","l":9.43,"v":0.975},{"s":"dry air","l":9.48,"v":0.97},{"s":"dry air","l":9.55,"v":0.975},{"s":"dry air","l":9.63,"v":0.981},{"s":"dry air","l":9.8,"v":0.99},{"s":"dry air","l":10.0,"v":0.993},{"s":"dry air","l":10.08,"v":0.99},{"s":"dry air","l":10.15,"v":0.984},{"s":"dry air","l":10.25,"v":0.975},{"s":"dry air","l":10.33,"v":0.98},{"s":"dry air","l":10.41,"v":0.984},{"s":"dry air","l":10.48,"v":0.98},{"s":"dry air","l":10.56,"v":0.975},{"s":"dry air","l":10.65,"v":0.982},{"s":"dry air","l":10.77,"v":0.986},{"s":"dry air","l":11.0,"v":0.986},{"s":"dry air","l":11.43,"v":0.984},{"s":"dry air","l":11.8,"v":0.982},{"s":"dry air","l":12.0,"v":0.979},{"s":"dry air","l":12.2,"v":0.975},{"s":"dry air","l":12.36,"v":0.965},{"s":"dry air","l":12.45,"v":0.955},{"s":"dry air","l":12.51,"v":0.947},{"s":"dry air","l":12.59,"v":0.924},{"s":"dry air","l":12.65,"v":0.935},{"s":"dry air","l":12.72,"v":0.947},{"s":"dry air","l":12.82,"v":0.945},{"s":"dry air","l":12.88,"v":0.935},{"s":"dry air","l":12.93,"v":0.92}
]},
"spacing":6,
"vconcat":[
{"width":840,"height":49,"view":{"stroke":null},"data":{"name":"bands"},
"layer":[
{"transform":[{"filter":"datum.b == 'VIZ'"}],
"mark":{"type":"rect","color":{"gradient":"linear","x1":0,"y1":0,"x2":1,"y2":0,"stops":[{"offset":0,"color":"#5c1a8e"},{"offset":0.13,"color":"#3a2cc8"},{"offset":0.26,"color":"#2a7be0"},{"offset":0.36,"color":"#20c0b0"},{"offset":0.46,"color":"#40c040"},{"offset":0.58,"color":"#c8e020"},{"offset":0.68,"color":"#ffe000"},{"offset":0.8,"color":"#ff9020"},{"offset":1,"color":"#ff3030"}]}},
"encoding":{"x":{"field":"a","type":"quantitative","scale":{"domain":[0,12.93],"nice":false,"zero":false},"axis":null},"x2":{"field":"e"}}},
{"transform":[{"filter":"datum.b != 'VIZ'"}],
"mark":{"type":"rect"},
"encoding":{"x":{"field":"a","type":"quantitative","scale":{"domain":[0,12.93],"nice":false,"zero":false},"axis":null},"x2":{"field":"e"},
"color":{"field":"b","type":"nominal","scale":{"domain":["NIR","SWIR","MWIR","LWIR"],"range":["#ff9c9c","#ff5a5a","#ff0000","#c40000"]},"legend":null}}},
{"transform":[{"filter":"datum.b == 'VIZ'"}],
"mark":{"type":"text","angle":270,"fontSize":20,"fontWeight":"bold","color":"white","baseline":"middle","align":"center"},
"encoding":{"x":{"field":"c","type":"quantitative","scale":{"domain":[0,12.93],"nice":false,"zero":false},"axis":null},"text":{"field":"b"}}},
{"transform":[{"filter":"datum.b == 'NIR'"}],
"mark":{"type":"text","angle":270,"fontSize":20,"fontWeight":"bold","color":"black","baseline":"middle","align":"center"},
"encoding":{"x":{"field":"c","type":"quantitative","scale":{"domain":[0,12.93],"nice":false,"zero":false},"axis":null},"text":{"field":"b"}}},
{"transform":[{"filter":"datum.b == 'SWIR' || datum.b == 'MWIR' || datum.b == 'LWIR'"}],
"mark":{"type":"text","fontSize":30,"fontWeight":"bold","color":"white","baseline":"middle","align":"center"},
"encoding":{"x":{"field":"c","type":"quantitative","scale":{"domain":[0,12.93],"nice":false,"zero":false},"axis":null},"text":{"field":"b"}}}
]},
{"width":840,"height":201,"data":{"name":"sus"},
"resolve":{"axis":{"x":"independent","y":"independent"}},
"layer":[
{"mark":{"type":"line","strokeWidth":1,"clip":true},
"encoding":{
"x":{"field":"l","type":"quantitative","scale":{"domain":[0,12.93],"nice":false,"zero":false},"axis":{"orient":"bottom","values":[0,2,4,6,8,10,12],"labels":true,"labelOpacity":0,"labelFontSize":6,"labelPadding":5,"title":null,"tickSize":-10}},
"y":{"field":"v","type":"quantitative","scale":{"domain":[5.7048,5.7852],"nice":false,"zero":false},"axis":{"orient":"left","values":[5.72,5.74,5.76,5.78],"format":".2f","tickSize":-10,"labelPadding":24,"title":"susceptibility (10⁻⁴)","titleX":-77,"titleBaseline":"alphabetic"}},
"color":{"field":"s","type":"nominal","scale":{"domain":["50% humidity","10% humidity","dry air"],"range":["#ff0000","#000000","#0000ff"]},
"legend":{"orient":"none","legendX":201,"legendY":124,"title":null,"symbolType":"M-5,0H5","symbolSize":144,"symbolStrokeWidth":1.5,"labelAlign":"right","labelOffset":-58,"labelFontSize":21,"labelColor":"black","labelFont":"Liberation Sans","rowPadding":1,"padding":0}}}},
{"mark":{"type":"point","opacity":0,"clip":true},
"encoding":{
"x":{"field":"l","type":"quantitative","scale":{"domain":[0,12.93],"nice":false,"zero":false},"axis":{"orient":"top","values":[0,2,4,6,8,10,12],"labels":false,"title":null,"tickSize":-10}},
"y":{"field":"v","type":"quantitative","scale":{"domain":[5.7048,5.7852],"nice":false,"zero":false},"axis":{"orient":"right","values":[5.72,5.74,5.76,5.78],"labels":false,"title":null,"tickSize":-10}}}}
]},
{"width":840,"height":366,"data":{"name":"trans"},
"resolve":{"axis":{"x":"independent","y":"independent"}},
"layer":[
{"mark":{"type":"line","strokeWidth":1,"clip":true},
"encoding":{
"x":{"field":"l","type":"quantitative","scale":{"domain":[0,12.93],"nice":false,"zero":false},"axis":{"orient":"bottom","values":[0,2,4,6,8,10,12],"tickSize":-10,"labelPadding":23,"labelFlush":false,"title":"wavelength (μm)","titleY":57,"titleBaseline":"alphabetic"}},
"y":{"field":"v","type":"quantitative","scale":{"domain":[0,1],"nice":false,"zero":false},"axis":{"orient":"left","values":[0,0.2,0.4,0.6,0.8,1],"format":"~g","tickSize":-10,"labelPadding":20,"title":"transmittance at 1km","titleX":-77,"titleBaseline":"alphabetic"}},
"color":{"field":"s","type":"nominal","scale":{"domain":["50% humidity","10% humidity","dry air"],"range":["#ff0000","#000000","#0000ff"]},"legend":null}}},
{"mark":{"type":"point","opacity":0,"clip":true},
"encoding":{
"x":{"field":"l","type":"quantitative","scale":{"domain":[0,12.93],"nice":false,"zero":false},"axis":{"orient":"top","values":[0,2,4,6,8,10,12],"labels":false,"title":null,"tickSize":-10}},
"y":{"field":"v","type":"quantitative","scale":{"domain":[0,1],"nice":false,"zero":false},"axis":{"orient":"right","values":[0,0.2,0.4,0.6,0.8,1],"labels":false,"title":null,"tickSize":-10}}}}
]}
]
}
